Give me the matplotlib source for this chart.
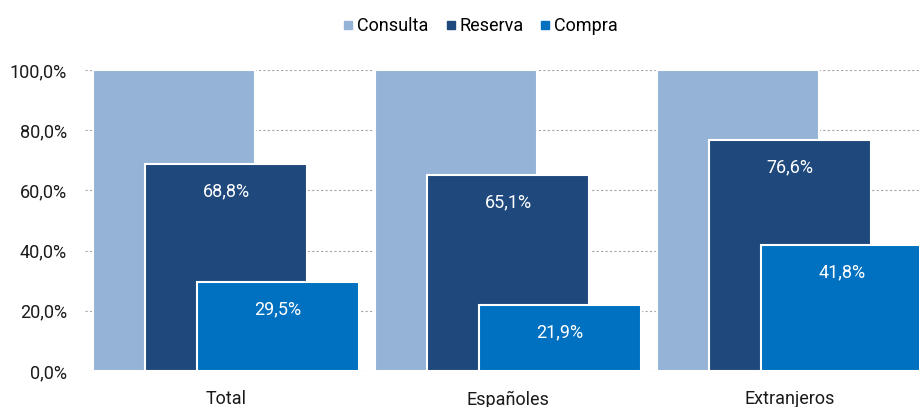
import matplotlib
matplotlib.use("Agg")
import matplotlib.pyplot as plt
import numpy as np
from matplotlib.lines import Line2D

plt.rcParams['font.family'] = ['Roboto', 'DejaVu Sans']

categories = ["Total", "Españoles", "Extranjeros"]
series = ["Consulta", "Reserva", "Compra"]
consulta = [100.0, 100.0, 100.0]
reserva = [68.8, 65.1, 76.6]
compra = [29.5, 21.9, 41.8]
colors = ["#95B3D7", "#1F497D", "#0070C0"]

fig = plt.figure(figsize=(9.19, 4.07), dpi=100)
ax = fig.add_axes([0.0925, 0.0885, 0.9075, 0.7396])

x = np.arange(len(categories))
width = 0.576
offsets = [-0.184, 0.0, 0.184]
values = [consulta, reserva, compra]

for i, (name, vals, col, off) in enumerate(zip(series, values, colors, offsets)):
    ax.bar(x + off, vals, width, color=col, edgecolor="white", linewidth=1.5,
           zorder=2 + i, label=name)
    if i > 0:
        for xi, v in zip(x, vals):
            ax.text(xi + off, v - 9, f"{v:.1f}%".replace(".", ","), color="white",
                    ha="center", va="center", fontsize=13, zorder=10)

ax.set_ylim(0, 100)
ax.set_xlim(-0.5, 2.457)
ax.set_yticks(np.arange(0, 101, 20))
ax.set_yticklabels([f"{t:.1f}%".replace(".", ",") for t in np.arange(0, 101, 20)])
ax.set_xticks(x)
ax.set_xticklabels(categories)
ax.tick_params(axis="both", length=0, labelsize=13, colors="#1a1a1a")
ax.tick_params(axis="y", pad=13)
ax.tick_params(axis="x", pad=14)
ax.yaxis.grid(True, linestyle=(0, (2, 2)), color="#a6a6a6", linewidth=0.8, zorder=0)
ax.set_axisbelow(True)
for s in ax.spines.values():
    s.set_visible(False)

handles = [Line2D([], [], marker="s", linestyle="", color=c, markersize=6) for c in colors]
fig.legend(handles, series, loc="center", bbox_to_anchor=(0.522, 0.935), ncol=3,
           frameon=False, fontsize=13, handletextpad=0.1, columnspacing=0.8,
           handlelength=0.8)

fig.savefig("out.png", dpi=100)
